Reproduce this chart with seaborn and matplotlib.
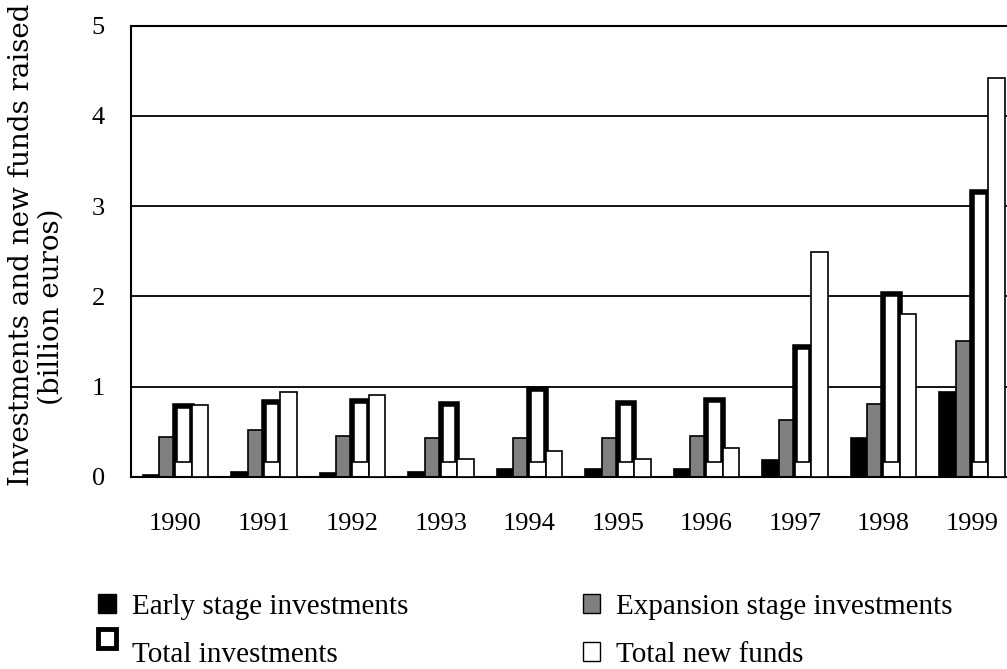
import pandas as pd
import matplotlib.pyplot as plt
import seaborn as sns
from matplotlib.patches import Patch, Rectangle
from matplotlib.legend_handler import HandlerPatch

# values (billion euros)
years = ["1990", "1991", "1992", "1993", "1994", "1995", "1996", "1997", "1998", "1999"]
early = [0.02, 0.05, 0.04, 0.05, 0.08, 0.08, 0.08, 0.19, 0.43, 0.94]
expansion = [0.44, 0.52, 0.45, 0.43, 0.43, 0.43, 0.45, 0.63, 0.81, 1.50]
total_inv = [0.78, 0.83, 0.84, 0.81, 0.97, 0.82, 0.85, 1.44, 2.03, 3.16]
new_funds = [0.79, 0.94, 0.91, 0.20, 0.29, 0.20, 0.32, 2.49, 1.80, 4.42]
series = ["Early stage investments", "Expansion stage investments",
          "Total investments", "Total new funds"]
cover = 0.16  # white base drawn over the bottom of the total bars

df = pd.DataFrame({
    "year": years * 4,
    "value": early + expansion + total_inv + new_funds,
    "series": [s for s in series for _ in years],
})

sns.set_style("white")
plt.rcParams["font.family"] = ["Liberation Serif", "DejaVu Serif"]
plt.rcParams["text.color"] = "black"
plt.rcParams["xtick.color"] = "black"
plt.rcParams["ytick.color"] = "black"

fig = plt.figure(figsize=(10.07, 6.69), dpi=100)
ax = fig.add_axes([131.2 / 1007, 1 - 476.7 / 669, 885 / 1007, 451 / 669])

pal = {series[0]: "black", series[1]: "#808080", series[2]: "white", series[3]: "white"}
sns.barplot(data=df, x="year", y="value", hue="series", hue_order=series,
            palette=pal, width=0.74, edgecolor="black", linewidth=1.2,
            errorbar=None, legend=False, ax=ax)

# thick outline for total investments, white base box, new funds on top
for p in ax.containers[2]:
    p.set_linewidth(4)
    p.set_zorder(2)
for p in ax.containers[3]:
    p.set_zorder(3)
tot = ax.containers[2]
ax.bar([p.get_x() for p in tot], cover, width=tot[0].get_width(), align="edge",
       color="white", edgecolor="black", linewidth=1.2, zorder=2.5)

ax.set_xlim(-0.5, 9.5)
ax.set_ylim(0, 5)
ax.set_yticks(range(6))
ax.yaxis.grid(True, color="black", linewidth=1.3)
ax.set_axisbelow(True)
for side in ["left", "top", "bottom"]:
    ax.spines[side].set_color("black")
    ax.spines[side].set_linewidth(1.5)
ax.spines["right"].set_visible(False)

ax.set_xticks(range(10))
ax.set_xticklabels(years)
ax.set_xticks([i + 0.5 for i in range(9)], minor=True)
ax.tick_params(axis="x", which="major", length=0, pad=26, labelsize=19, labelcolor="black")
ax.tick_params(axis="x", which="minor", direction="in", length=7, width=1.3, color="black")
ax.tick_params(axis="y", length=0, pad=19, labelsize=19, labelcolor="black")
ax.set_xlabel("")
ax.set_ylabel("")

# y label, two lines placed separately as in the reference (wide, stretched look)
fig.text(29 / 1007, 1 - 245 / 669, "Investments and new funds raised", rotation=90,
         ha="center", va="baseline", rotation_mode="anchor", fontsize=20,
         family=["DejaVu Serif"], color="black")
fig.text(59 / 1007, 1 - 307 / 669, "(billion euros)", rotation=90,
         ha="center", va="baseline", rotation_mode="anchor", fontsize=20,
         family=["DejaVu Serif"], color="black")


def raised_box(legend, orig_handle, xdescent, ydescent, width, height, fontsize):
    return Rectangle((-xdescent, -ydescent + 0.7 * height), width, height)


handles = [
    Patch(facecolor="black", edgecolor="black", linewidth=1),
    Patch(facecolor="white", edgecolor="black", linewidth=3.5),
    Patch(facecolor="#808080", edgecolor="black", linewidth=1),
    Patch(facecolor="white", edgecolor="black", linewidth=1),
]
labels = [series[0], series[2], series[1], series[3]]
fig.legend(handles, labels, ncol=2, loc="upper left",
           bbox_to_anchor=(98 / 1007, 1 - 594 / 669), frameon=False,
           fontsize=21, handlelength=0.6, handleheight=0.6, handletextpad=0.55,
           columnspacing=6.0, labelspacing=0.75, borderpad=0, borderaxespad=0,
           labelcolor="black",
           handler_map={handles[1]: HandlerPatch(patch_func=raised_box)})

fig.savefig("out.png", dpi=100)
